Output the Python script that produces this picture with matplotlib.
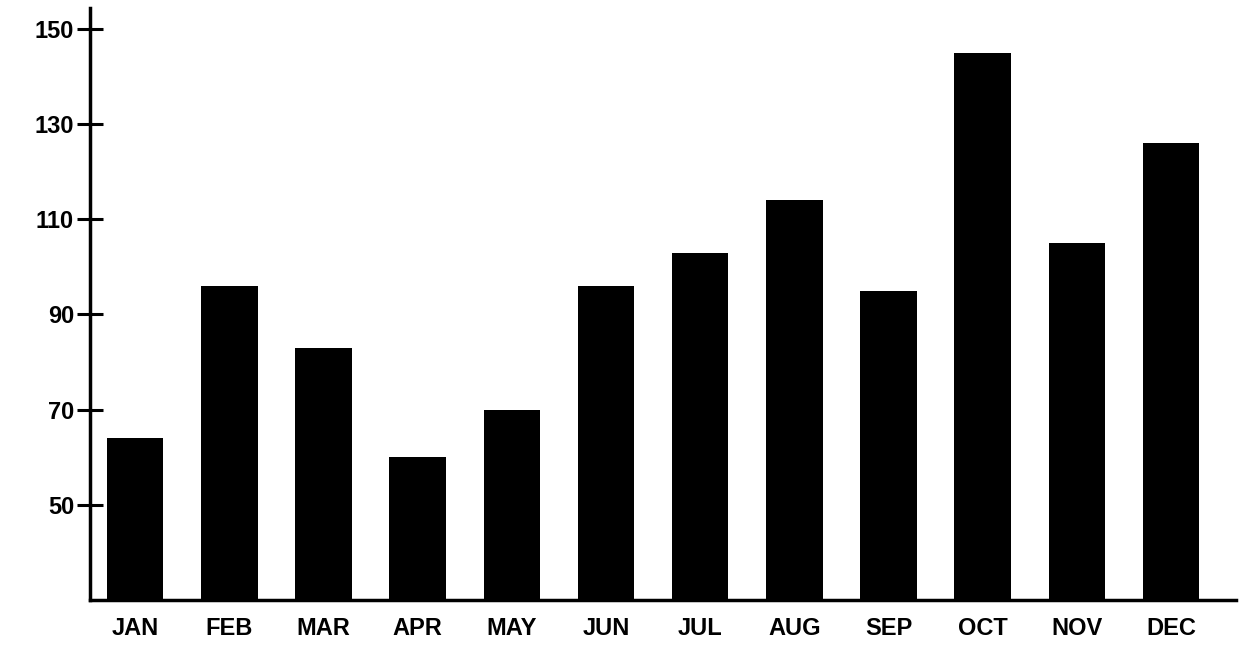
import matplotlib
matplotlib.use("Agg")
import matplotlib.pyplot as plt

months = ["JAN", "FEB", "MAR", "APR", "MAY", "JUN", "JUL", "AUG", "SEP", "OCT", "NOV", "DEC"]
values = [64, 96, 83, 60, 70, 96, 103, 114, 95, 145, 105, 126]
yticks = [50, 70, 90, 110, 130, 150]

plt.rcParams['font.family'] = ['Liberation Sans', 'DejaVu Sans']

fig = plt.figure(figsize=(12.54, 6.48), dpi=100)
ax = fig.add_axes([0.0718, 0.0741, 0.9138, 0.9136])

x = list(range(len(months)))
ax.bar(x, values, width=0.6, color="black", bottom=0)

ax.set_xlim(-0.48, 11.69)
ax.set_ylim(30, 154.4)

for s in ["top", "right"]:
    ax.spines[s].set_visible(False)
for s in ["left", "bottom"]:
    ax.spines[s].set_linewidth(2.5)
    ax.spines[s].set_color("black")

ax.set_yticks(yticks)
ax.set_yticklabels([str(v) for v in yticks], fontsize=17, fontweight="bold")
ax.tick_params(axis="y", direction="inout", length=19, width=2.2, pad=2)

ax.set_xticks(x)
ax.set_xticklabels(months, fontsize=17, fontweight="bold")
ax.tick_params(axis="x", length=0, pad=12)

fig.savefig("out.png", dpi=100)
